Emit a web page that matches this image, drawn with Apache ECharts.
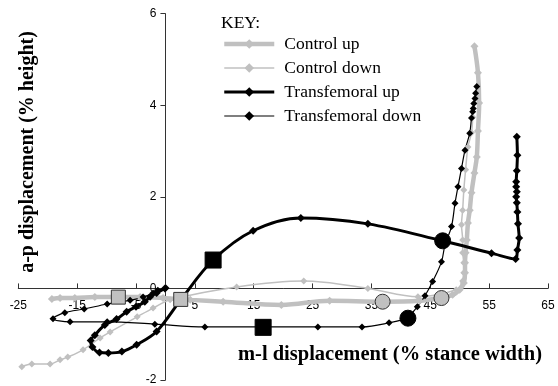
<!DOCTYPE html>
<html><head><meta charset="utf-8">
<script src="https://cdn.jsdelivr.net/npm/echarts@6/dist/echarts.min.js"></script>
<style>html,body{margin:0;padding:0;background:#fff}#c{width:558px;height:386px}</style>
</head><body><div id="c"></div>
<script>
// ---- data (m-l displacement %, a-p displacement %) ----
const seriesNames = ['Control up', 'Control down', 'Transfemoral up', 'Transfemoral down'];

const controlUp = [
  [-19.3,-0.23],[-17.9,-0.21],[-15.4,-0.21],[-12.0,-0.19],[-8.1,-0.19],[-4.3,-0.19],[-0.4,-0.21],
  [4.2,-0.25],[9.8,-0.29],[19.7,-0.36],[27.9,-0.27],[36.9,-0.29],[43.2,-0.27],[46.6,-0.21],
  [48.8,-0.14],[50.0,-0.03],[50.7,0.12],[50.9,0.34],[50.9,0.56],[51.0,0.78],[51.2,1.06],
  [51.4,1.43],[51.7,1.71],[52.0,2.09],[52.5,2.52],[52.9,2.87],[53.1,3.44],[53.3,4.05],
  [53.1,4.71],[52.5,5.29]
];
const controlDown = [
  [-24.4,-1.71],[-22.7,-1.65],[-19.6,-1.65],[-17.9,-1.56],[-16.6,-1.50],[-14.0,-1.34],
  [-11.1,-1.08],[-9.4,-0.95],[-4.8,-0.62],[-2.1,-0.43],[0.8,-0.25],[12.1,0.03],[23.5,0.16],
  [34.4,0.00],[42.9,-0.18],[49.4,-0.03],[50.5,0.16],[50.7,0.34],[50.7,0.56],[50.5,0.78],
  [50.5,1.06],[50.3,1.39],[50.5,1.71],[50.7,2.15],[51.0,2.59],[51.4,3.09],[52.0,3.40],[52.2,3.74]
];
const transUp = [
  [-0.1,0.00],[-1.5,-0.10],[-2.6,-0.18],[-3.5,-0.29],[-5.0,-0.40],[-6.6,-0.51],[-8.3,-0.67],
  [-10.3,-0.80],[-12.0,-1.02],[-12.7,-1.14],[-12.4,-1.28],[-11.2,-1.40],[-9.7,-1.41],
  [-7.4,-1.38],[-4.9,-1.23],[-1.5,-0.94],[2.6,-0.25],[8.1,0.62],[14.9,1.26],[23.0,1.54],
  [34.4,1.41],[47.1,1.04],[55.4,0.77],[59.5,0.64],[59.8,0.84],[60.1,1.10],[59.9,1.41],
  [59.8,1.67],[59.7,1.87],[59.6,2.00],[59.7,2.11],[59.6,2.22],[59.6,2.33],[59.7,2.57],
  [59.8,2.91],[59.7,3.31]
];
const transDown = [
  [0.1,0.01],[-1.3,-0.04],[-2.1,-0.10],[-3.8,-0.19],[-6.0,-0.26],[-9.9,-0.34],[-13.8,-0.45],
  [-17.1,-0.53],[-19.1,-0.66],[-16.2,-0.73],[-9.9,-0.73],[-1.8,-0.78],[6.7,-0.84],[16.6,-0.84],
  [25.9,-0.84],[33.4,-0.84],[38.0,-0.75],[41.0,-0.64],[42.8,-0.40],[44.1,-0.16],[45.4,0.15],
  [46.9,0.58],[47.5,0.95],[48.6,1.35],[49.2,1.86],[49.7,2.22],[50.3,2.62],[50.9,3.02],
  [51.7,3.39],[52.0,3.72],[52.2,3.86],[52.3,3.93],[52.4,4.04],[52.6,4.15],[52.7,4.26],[52.9,4.41]
];
// gait event markers
const greySquares = [[-8.0,-0.19],[2.6,-0.24]];
const greyCircles = [[36.9,-0.29],[46.9,-0.21]];
const blackSquares = [[8.1,0.62],[16.6,-0.85]];
const blackCircles = [[41.2,-0.65],[47.1,1.04]];

// axes and tick labels
const xMin = -25, xMax = 65, xStep = 5;
const xTickValues = [-25, -15, -5, 5, 15, 25, 35, 45, 55, 65];
const yMin = -2, yMax = 6, yStep = 2;
const yTickValues = [-2, 0, 2, 4, 6];

const axisTitleX = 'm-l displacement (% stance width)';
const axisTitleY = 'a-p displacement (% height)';
const keyTitle = 'KEY:';

const GREY = '#c0c0c0';
const W = 558, H = 386;
const GRID = {left: 18.3, right: 10, top: 13.7, bottom: 6};
const plotW = W - GRID.left - GRID.right;
const plotH = H - GRID.top - GRID.bottom;
// shift each axis so it crosses the other one at value 0
const xAxisOffset = -plotH * (0 - yMin) / (yMax - yMin);
const yAxisOffset = -plotW * (0 - xMin) / (xMax - xMin);

const chart = echarts.init(document.getElementById('c'), null, {renderer: 'canvas'});

function lineSeries(name, data, color, width, size) {
  return {
    name, type: 'line', data, smooth: 0.35, symbol: 'diamond', symbolSize: size,
    showAllSymbol: true,
    lineStyle: {color, width}, itemStyle: {color, borderWidth: 0}, emphasis: {disabled: true}
  };
}
function markerSeries(name, data, symbol, size, color, border) {
  return {
    name, type: 'scatter', data, symbol, symbolSize: size, z: 5,
    itemStyle: {color, borderColor: border, borderWidth: 1, opacity: 1}, emphasis: {disabled: true}
  };
}

chart.setOption({
  animation: false,
  textStyle: {fontFamily: 'Liberation Sans'},
  grid: Object.assign({containLabel: false, outerBoundsMode: 'none'}, GRID),
  xAxis: {
    type: 'value', min: xMin, max: xMax, interval: xStep, position: 'bottom', offset: xAxisOffset,
    splitLine: {show: false},
    axisLine: {onZero: false, lineStyle: {color: '#333', width: 1}},
    axisTick: {inside: true, length: 5, customValues: xTickValues, lineStyle: {color: '#333'}},
    axisLabel: {customValues: xTickValues, margin: 11, fontSize: 12, color: '#000', fontFamily: 'Liberation Sans'}
  },
  yAxis: {
    type: 'value', min: yMin, max: yMax, interval: yStep, position: 'left', offset: yAxisOffset,
    splitLine: {show: false},
    axisLine: {show: true, onZero: false, lineStyle: {color: '#333', width: 1}},
    axisTick: {show: true, length: 5, customValues: yTickValues, lineStyle: {color: '#333'}},
    axisLabel: {customValues: yTickValues, margin: 9, fontSize: 12, color: '#000', fontFamily: 'Liberation Sans'}
  },
  legend: {
    data: seriesNames, orient: 'vertical', left: 222, top: 35, padding: 0,
    itemWidth: 50, itemHeight: 12, itemGap: 6,
    lineStyle: {width: 'inherit'},
    textStyle: {fontFamily: 'Liberation Serif', fontSize: 17.5, color: '#000', padding: [0, 0, 0, 5]},
    selectedMode: false
  },
  graphic: [
    {type: 'text', x: 221, y: 23, style: {text: keyTitle, fontFamily: 'Liberation Serif', fontSize: 17.5, fill: '#000', align: 'left', verticalAlign: 'middle'}},
    {type: 'text', x: 390, y: 355, style: {text: axisTitleX, fontFamily: 'Liberation Serif', fontWeight: 'bold', fontSize: 20.5, fill: '#000', align: 'center', verticalAlign: 'middle'}},
    {type: 'text', x: 28, y: 152, rotation: Math.PI / 2, style: {text: axisTitleY, fontFamily: 'Liberation Serif', fontWeight: 'bold', fontSize: 20, fill: '#000', align: 'center', verticalAlign: 'middle'}}
  ],
  series: [
    lineSeries(seriesNames[0], controlUp, GREY, 4.5, 8),
    lineSeries(seriesNames[1], controlDown, GREY, 1.5, 7),
    lineSeries(seriesNames[2], transUp, '#000', 3, 8),
    lineSeries(seriesNames[3], transDown, '#000', 1.2, 7),
    markerSeries('grey squares', greySquares, 'rect', 14, GREY, '#333'),
    markerSeries('grey circles', greyCircles, 'circle', 15, GREY, '#333'),
    markerSeries('black squares', blackSquares, 'rect', 16, '#000', '#000'),
    markerSeries('black circles', blackCircles, 'circle', 16, '#000', '#000')
  ]
});
</script></body></html>
